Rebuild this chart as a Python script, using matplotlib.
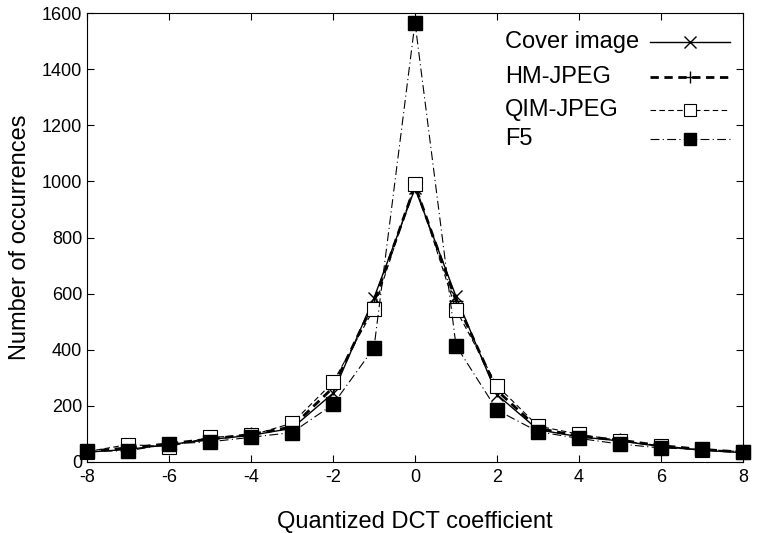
import matplotlib.pyplot as plt
from matplotlib.lines import Line2D

plt.rcParams["font.family"] = ["Liberation Sans", "DejaVu Sans"]
plt.rcParams["axes.unicode_minus"] = False

coeffs = list(range(-8, 9))
cover = [35, 45, 62, 80, 95, 120, 245, 585, 975, 590, 240, 115, 90, 75, 55, 42, 33]
hm_jpeg = [38, 50, 65, 82, 98, 125, 265, 570, 985, 575, 255, 120, 92, 78, 58, 45, 35]
qim_jpeg = [37, 62, 55, 88, 95, 138, 284, 546, 992, 543, 272, 128, 99, 76, 58, 43, 37]
f5 = [38, 40, 64, 72, 88, 105, 205, 407, 1566, 415, 185, 108, 84, 64, 50, 45, 37]
labels = ["Cover image", "HM-JPEG", "QIM-JPEG", "F5"]

W, H = 757, 533
fig = plt.figure(figsize=(W / 100, H / 100), dpi=100)
ax = fig.add_axes([87 / W, 1 - 462 / H, (743 - 87) / W, (462 - 13) / H])

styles = [
    dict(color="black", lw=1.0, ls="-", marker="x", ms=9, mew=1.0),
    dict(color="black", lw=2.0, ls=(0, (3, 2)), marker="+", ms=10, mew=1.0),
    dict(color="black", lw=0.8, ls=(0, (5, 3)), marker="s", ms=10,
         mfc="white", mec="black", mew=0.8),
    dict(color="black", lw=0.8, ls=(0, (8, 3, 1, 3)), marker="s", ms=10,
         mfc="black", mec="black"),
]
series = [cover, hm_jpeg, qim_jpeg, f5]

for vals, st in zip(series, styles):
    ax.plot(coeffs, vals, clip_on=False, **st)

ax.set_xlim(-8, 8)
ax.set_ylim(0, 1600)
ax.set_xticks(range(-8, 9, 2))
ax.set_yticks(range(0, 1601, 200))
ax.tick_params(direction="in", top=True, right=True, labelsize=13, length=5)
ax.tick_params(axis="x", pad=5)
ax.set_xlabel("Quantized DCT coefficient", fontsize=17, labelpad=18)
ax.set_ylabel("Number of occurrences", fontsize=17, labelpad=8)

# key, drawn by hand so the labels sit left-aligned like the original
rows_y = [42, 77, 110, 139]
for lab, st, yy in zip(labels, styles, rows_y):
    fy = 1 - yy / H
    fig.text(505 / W, fy, lab, fontsize=17, ha="left", va="center")
    line_st = {k: v for k, v in st.items() if k not in ("marker", "ms", "mew", "mfc", "mec")}
    fig.add_artist(Line2D([650 / W, 730 / W], [fy, fy], **line_st))
    mk = {k: v for k, v in st.items() if k in ("marker", "mew", "mfc", "mec", "color")}
    fig.add_artist(Line2D([690 / W], [fy], ls="none", ms=st["ms"] - 1, **mk))

fig.savefig("out.png", dpi=100)
